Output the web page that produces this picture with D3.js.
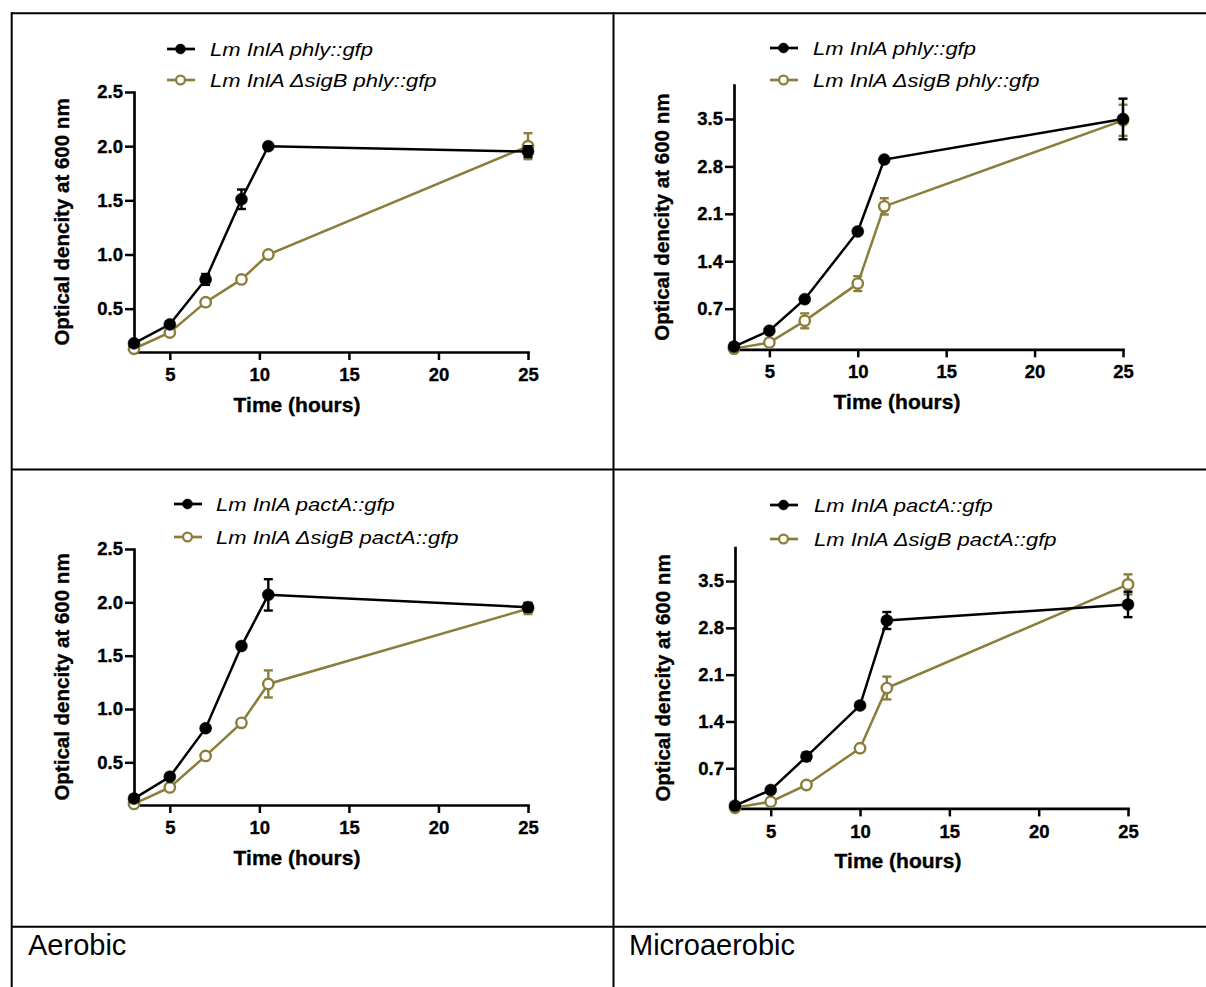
<!DOCTYPE html>
<html>
<head>
<meta charset="utf-8">
<script src="https://cdn.jsdelivr.net/npm/d3@7"></script>
<style>
  body { margin: 0; background: #fff; }
  text { font-family: "Liberation Sans", Arial, sans-serif; }
</style>
</head>
<body>
<svg id="fig" width="1206" height="987"></svg>
<script>
// sampling times (hours)
const hoursAer = [3, 5, 7, 9, 10.5, 25];
const hoursMicro = [3, 5, 7, 10, 11.5, 25];

// OD600, mean and error, per strain
const aerPhlyWt = [0.18, 0.355, 0.77, 1.51, 2.0, 1.95];
const aerPhlyWtErr = [0.02, 0.02, 0.05, 0.09, 0.02, 0.05];
const aerPhlySig = [0.13, 0.28, 0.56, 0.77, 1.0, 2.0];
const aerPhlySigErr = [0.01, 0.02, 0.02, 0.02, 0.02, 0.12];

const microPhlyWt = [0.14, 0.375, 0.84, 1.84, 2.9, 3.5];
const microPhlyWtErr = [0.02, 0.02, 0.03, 0.03, 0.03, 0.3];
const microPhlySig = [0.11, 0.2, 0.52, 1.07, 2.21, 3.48];
const microPhlySigErr = [0.01, 0.02, 0.11, 0.11, 0.12, 0.23];

const aerPactWt = [0.16, 0.365, 0.82, 1.59, 2.07, 1.955];
const aerPactWtErr = [0.01, 0.02, 0.02, 0.02, 0.147, 0.04];
const aerPactSig = [0.11, 0.265, 0.56, 0.87, 1.235, 1.94];
const aerPactSigErr = [0.01, 0.01, 0.02, 0.02, 0.127, 0.05];

const microPactWt = [0.14, 0.375, 0.875, 1.64, 2.91, 3.15];
const microPactWtErr = [0.01, 0.02, 0.06, 0.02, 0.127, 0.19];
const microPactSig = [0.11, 0.2, 0.45, 1.0, 1.9, 3.45];
const microPactSigErr = [0.01, 0.01, 0.02, 0.02, 0.17, 0.15];

// axes
const xTicks = [5, 10, 15, 20, 25];
const yTicksAer = [0.5, 1.0, 1.5, 2.0, 2.5];
const yTicksMicro = [0.7, 1.4, 2.1, 2.8, 3.5];

const legendPhly = ["Lm InlA phly::gfp", "Lm InlA \u0394sigB phly::gfp"];
const legendPact = ["Lm InlA pactA::gfp", "Lm InlA \u0394sigB pactA::gfp"];
const conditions = ["Aerobic", "Microaerobic"];

const black = "#000";
const olive = "#8b7d3a";

const svg = d3.select("#fig");

// table grid
const grid = svg.append("g").attr("stroke", "#000").attr("stroke-width", 2);
grid.append("line").attr("x1", 11).attr("x2", 1206).attr("y1", 13.3).attr("y2", 13.3);
grid.append("line").attr("x1", 11).attr("x2", 1206).attr("y1", 469.5).attr("y2", 469.5);
grid.append("line").attr("x1", 11).attr("x2", 1206).attr("y1", 926.7).attr("y2", 926.7);
grid.append("line").attr("x1", 11.7).attr("x2", 11.7).attr("y1", 12.3).attr("y2", 987);
grid.append("line").attr("x1", 613.5).attr("x2", 613.5).attr("y1", 12.3).attr("y2", 987);

svg.append("text").attr("x", 28).attr("y", 955).attr("font-size", 29).text(conditions[0]);
svg.append("text").attr("x", 629).attr("y", 955).attr("font-size", 29).text(conditions[1]);

const panels = [
  { x: [134, 528], y: [352, 92], yMax: 2.5, yTicks: yTicksAer, t: hoursAer,
    wt: aerPhlyWt, wtErr: aerPhlyWtErr, sig: aerPhlySig, sigErr: aerPhlySigErr,
    legend: legendPhly, lx: 167, ly: [49, 80], tx: 210 },
  { x: [734, 1123], y: [349.3, 85.1], yMax: 4.0, yTicks: yTicksMicro, t: hoursMicro,
    wt: microPhlyWt, wtErr: microPhlyWtErr, sig: microPhlySig, sigErr: microPhlySigErr,
    legend: legendPhly, lx: 770, ly: [48, 80], tx: 813 },
  { x: [134, 528], y: [805, 549], yMax: 2.5, yTicks: yTicksAer, t: hoursAer,
    wt: aerPactWt, wtErr: aerPactWtErr, sig: aerPactSig, sigErr: aerPactSigErr,
    legend: legendPact, lx: 174, ly: [504, 537], tx: 216 },
  { x: [735, 1128], y: [808.4, 547.6], yMax: 4.0, yTicks: yTicksMicro, t: hoursMicro,
    wt: microPactWt, wtErr: microPactWtErr, sig: microPactSig, sigErr: microPactSigErr,
    legend: legendPact, lx: 770, ly: [505, 539], tx: 814 }
];

panels.forEach(p => {
  const g = svg.append("g");
  const x = d3.scaleLinear().domain([3, 25]).range(p.x);
  const y = d3.scaleLinear().domain([0.1, p.yMax]).range(p.y);

  const xAxis = g.append("g")
    .attr("transform", `translate(0,${p.y[0]})`)
    .call(d3.axisBottom(x).tickValues(xTicks).tickSize(8).tickSizeOuter(0).tickPadding(8));
  const yAxis = g.append("g")
    .attr("transform", `translate(${p.x[0]},0)`)
    .call(d3.axisLeft(y).tickValues(p.yTicks).tickFormat(d3.format(".1f")).tickSize(9).tickSizeOuter(0).tickPadding(2));

  [xAxis, yAxis].forEach(a => {
    a.select(".domain").attr("stroke-width", 2.7).attr("stroke-linecap", "square");
    a.selectAll(".tick line").attr("stroke-width", 2.5);
    a.selectAll(".tick text").attr("font-size", 18.5).attr("font-weight", "bold")
      .attr("font-family", "'Liberation Sans', Arial, sans-serif").attr("fill", "#000")
      .attr("stroke", "#000").attr("stroke-width", 0.35);
  });

  g.append("text")
    .attr("transform", `translate(${p.x[0] - 65.5},${(p.y[0] + p.y[1]) / 2}) rotate(-90)`)
    .attr("text-anchor", "middle").attr("font-size", 20.5).attr("font-weight", "bold")
    .attr("stroke", "#000").attr("stroke-width", 0.35)
    .text("Optical dencity at 600 nm");

  g.append("text")
    .attr("x", p.x[0] + 163).attr("y", p.y[0] + 59.5)
    .attr("text-anchor", "middle").attr("font-size", 21).attr("font-weight", "bold")
    .attr("stroke", "#000").attr("stroke-width", 0.35)
    .text("Time (hours)");

  const series = [
    { v: p.sig, e: p.sigErr, color: olive, open: true },
    { v: p.wt, e: p.wtErr, color: black, open: false }
  ];
  const line = d3.line().x(d => x(d[0])).y(d => y(d[1]));

  series.forEach(s => {
    const pts = p.t.map((t, i) => [t, s.v[i], s.e[i]]);
    g.append("path").datum(pts).attr("d", line)
      .attr("fill", "none").attr("stroke", s.color).attr("stroke-width", 2.5);
  });

  series.forEach(s => {
    const pts = p.t.map((t, i) => [t, s.v[i], s.e[i]]);
    const eb = g.append("g").attr("stroke", s.color).attr("stroke-width", 2.4);
    pts.forEach(d => {
      const cx = x(d[0]), y0 = y(d[1] - d[2]), y1 = y(d[1] + d[2]);
      eb.append("line").attr("x1", cx).attr("x2", cx).attr("y1", y0).attr("y2", y1);
      eb.append("line").attr("x1", cx - 4.5).attr("x2", cx + 4.5).attr("y1", y0).attr("y2", y0);
      eb.append("line").attr("x1", cx - 4.5).attr("x2", cx + 4.5).attr("y1", y1).attr("y2", y1);
    });
    g.append("g").selectAll("circle").data(pts).join("circle")
      .attr("cx", d => x(d[0])).attr("cy", d => y(d[1]))
      .attr("r", s.open ? 5.2 : 6)
      .attr("fill", s.open ? "#fff" : s.color)
      .attr("stroke", s.color).attr("stroke-width", s.open ? 2.4 : 0.5);
  });

  // legend
  const lg = g.append("g");
  [{ color: black, open: false }, { color: olive, open: true }].forEach((s, i) => {
    const ly = p.ly[i];
    lg.append("line").attr("x1", p.lx).attr("x2", p.lx + 28).attr("y1", ly).attr("y2", ly)
      .attr("stroke", s.color).attr("stroke-width", 2.7);
    lg.append("circle").attr("cx", p.lx + 13.5).attr("cy", ly).attr("r", s.open ? 4.4 : 5)
      .attr("fill", s.open ? "#fff" : s.color).attr("stroke", s.color).attr("stroke-width", s.open ? 2.2 : 0.5);
    lg.append("text")
      .attr("transform", `translate(${p.tx},${ly + 6.5}) scale(1.17,1)`)
      .attr("font-size", 18.8).attr("font-style", "italic")
      .text(p.legend[i]);
  });
});
</script>
</body>
</html>
